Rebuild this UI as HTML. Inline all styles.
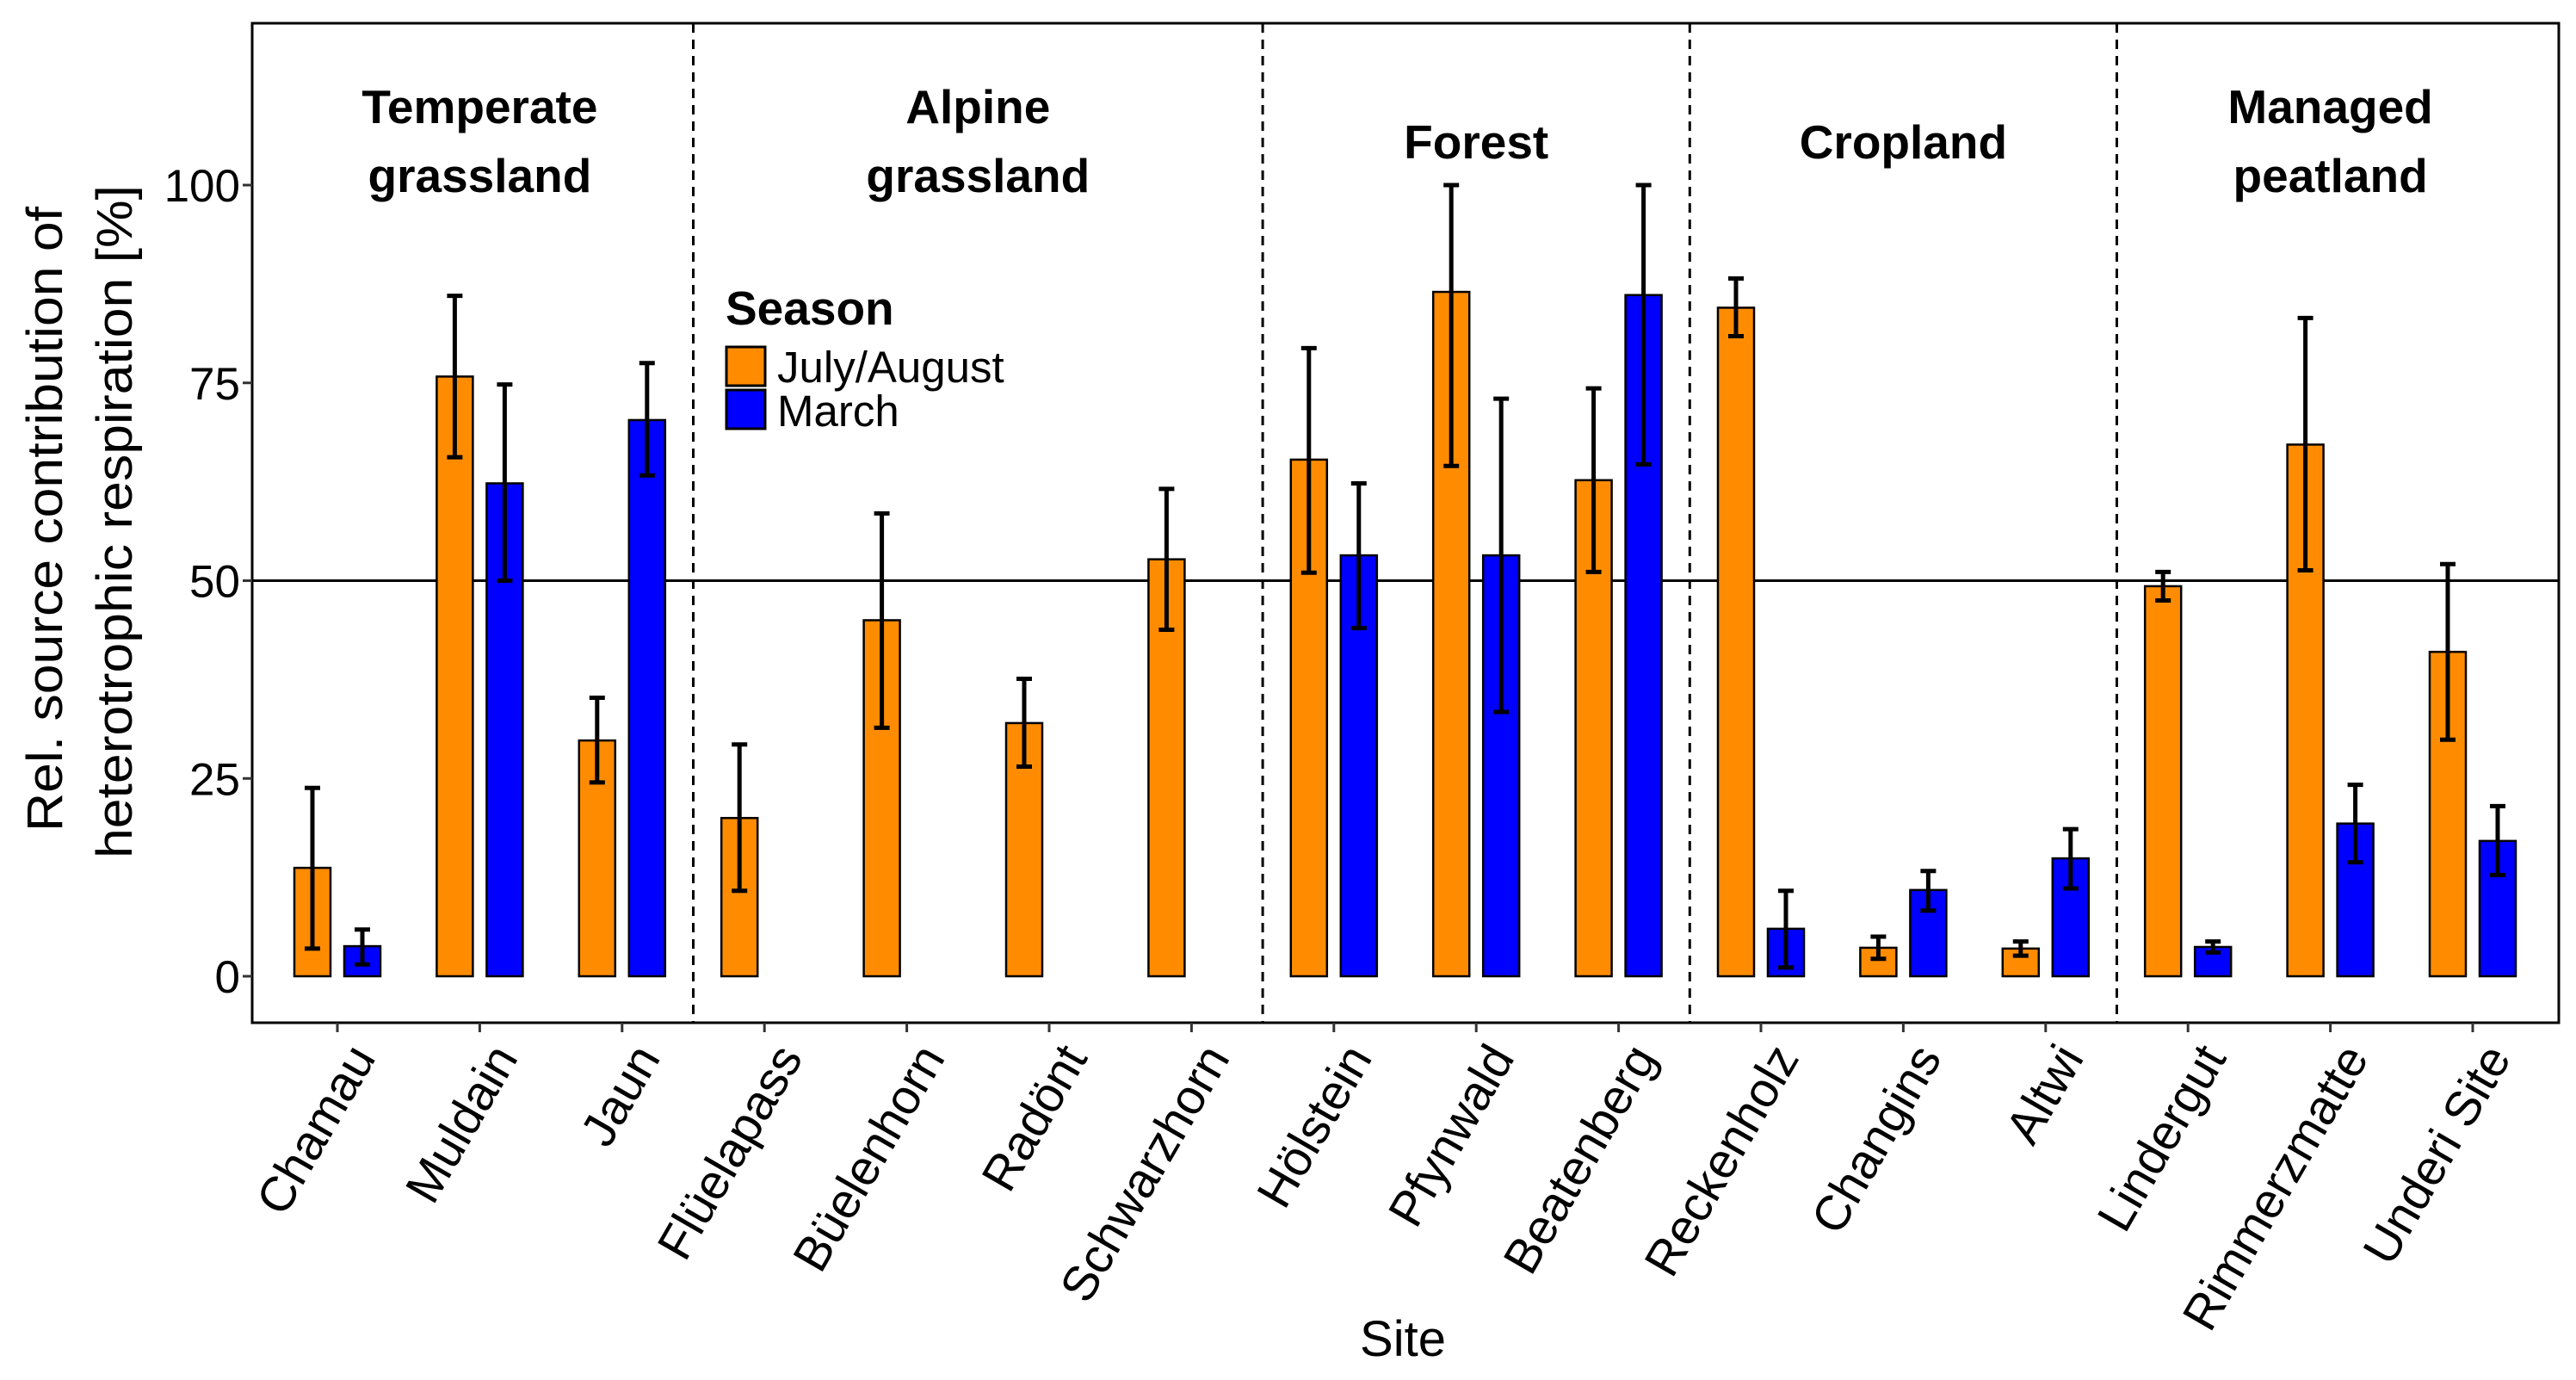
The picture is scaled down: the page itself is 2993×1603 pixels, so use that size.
<!DOCTYPE html>
<html><head><meta charset="utf-8"><style>
html,body{margin:0;padding:0;background:#fff;}
svg{display:block;font-family:"Liberation Sans",Arial,sans-serif;}
</style></head><body>
<svg id="chart" width="2993" height="1603" viewBox="0 0 2993 1603" xmlns="http://www.w3.org/2000/svg">
<g id="marks"></g>
<g id="axes"></g>
</svg>
<script>
const sites = ["Chamau","Muldain","Jaun","Flüelapass","Büelenhorn","Radönt","Schwarzhorn","Hölstein","Pfynwald","Beatenberg","Reckenholz","Changins","Altwi","Lindergut","Rimmerzmatte","Underi Site"];
const summerVals = [13.7,75.8,29.8,20,45,32,52.7,65.3,86.5,62.7,84.5,3.6,3.5,49.3,67.2,41];
const summerLo = [3.5,65.6,24.5,10.8,31.4,26.5,43.8,51,64.5,51.1,80.9,2.2,2.6,47.5,51.3,29.9];
const summerHi = [23.8,86,35.2,29.3,58.5,37.6,61.6,79.4,100,74.3,88.2,5,4.4,51.1,83.2,52.1];
const marchVals = [3.8,62.3,70.3,null,null,null,null,53.2,53.2,86.1,6,10.9,14.9,3.7,19.3,17.1];
const marchLo = [1.5,50,63.3,null,null,null,null,44,33.4,64.7,1.1,8.3,11.1,3,14.4,12.8];
const marchHi = [5.9,74.8,77.5,null,null,null,null,62.3,73,100,10.8,13.3,18.6,4.4,24.2,21.5];
const yTicks = [0,25,50,75,100];
const groupNames = [["Temperate","grassland"],["Alpine","grassland"],["Forest"],["Cropland"],["Managed","peatland"]];
const groupCenters = [1,4.5,8,11,14];
const groupDividers = [2.5,6.5,9.5,12.5];
const refLine = 50;

const NS="http://www.w3.org/2000/svg";
const L=293,R=2973,T=27,B=1188;
const xs=i=>392+i*165.4;
const ys=v=>1134-v*9.19;
const marks=document.getElementById('marks'), axes=document.getElementById('axes');
function el(tag,attrs,parent,text){const e=document.createElementNS(NS,tag);for(const k in attrs)e.setAttribute(k,attrs[k]);if(text!=null)e.textContent=text;parent.appendChild(e);return e;}

let e=el('line',{x1:L,x2:R,y1:ys(refLine),y2:ys(refLine),stroke:'#000','stroke-width':3},marks);


groupDividers.forEach(d=>{
  const l=el('line',{x1:xs(d),x2:xs(d),y1:T,y2:B,stroke:'#000','stroke-width':3,'stroke-dasharray':'11 8'},marks);
  
  
});
const bw=42, off=29;
function bar(i,v,lo,hi,col,sx,name){
  if(v==null)return;
  const cx=xs(i)+sx;
  const r=el('rect',{x:cx-bw/2,y:ys(v),width:bw,height:ys(0)-ys(v),fill:col,stroke:'#000','stroke-width':2.5},marks);
  
  
  const g=el('g',{stroke:'#000','stroke-width':5},marks);
  
  
  el('line',{x1:cx,x2:cx,y1:ys(lo),y2:ys(hi)},g);
  el('line',{x1:cx-9,x2:cx+9,y1:ys(lo),y2:ys(lo)},g);
  el('line',{x1:cx-9,x2:cx+9,y1:ys(hi),y2:ys(hi)},g);
}
sites.forEach((s,i)=>{
  bar(i,summerVals[i],summerLo[i],summerHi[i],'#ff8c00',-off,'summer-'+i);
  bar(i,marchVals[i],marchLo[i],marchHi[i],'#0000ff',off,'march-'+i);
});
e=el('rect',{x:L,y:T,width:R-L,height:B-T,fill:'none',stroke:'#000','stroke-width':3},axes);


yTicks.forEach(t=>{
  el('line',{x1:L-11,x2:L,y1:ys(t),y2:ys(t),stroke:'#333','stroke-width':3},axes);
  const tx=el('text',{x:L-14,y:ys(t)+19,'text-anchor':'end','font-size':53,fill:'#000'},axes,String(t));
  
  
});
sites.forEach((s,i)=>{
  el('line',{x1:xs(i),x2:xs(i),y1:B,y2:B+11,stroke:'#333','stroke-width':3},axes);
  const tx=el('text',{transform:`translate(${xs(i)+10},${B+20}) rotate(-60)`,'text-anchor':'end',dy:'0.72em','font-size':57,fill:'#000'},axes,s);
  
  
});
groupNames.forEach((g,i)=>{
  const lines=g.length===1?[184]:[143,223];
  g.forEach((w,j)=>{
    const tx=el('text',{x:xs(groupCenters[i]),y:lines[j],'text-anchor':'middle','font-size':55,'font-weight':'bold',fill:'#000'},axes,w);
    
    
  });
});
e=el('text',{x:1630,y:1575,'text-anchor':'middle','font-size':58,fill:'#000'},axes,'Site');


e=el('text',{transform:'translate(72,603) rotate(-90)','text-anchor':'middle','font-size':58,fill:'#000',textLength:726,lengthAdjust:'spacingAndGlyphs'},axes,'Rel. source contribution of');


e=el('text',{transform:'translate(153,606) rotate(-90)','text-anchor':'middle','font-size':58,fill:'#000',textLength:782,lengthAdjust:'spacingAndGlyphs'},axes,'heterotrophic respiration [%]');


const lg=el('g',{},axes);


e=el('text',{x:843,y:377,'font-size':55,'font-weight':'bold',fill:'#000'},lg,'Season');


e=el('rect',{x:844,y:403,width:45,height:45,fill:'#ff8c00',stroke:'#000','stroke-width':3},lg);


e=el('rect',{x:844,y:453,width:45,height:45,fill:'#0000ff',stroke:'#000','stroke-width':3},lg);


e=el('text',{x:903,y:444,'font-size':51,fill:'#000'},lg,'July/August');


e=el('text',{x:903,y:495,'font-size':51,fill:'#000'},lg,'March');


</script>
</body></html>
